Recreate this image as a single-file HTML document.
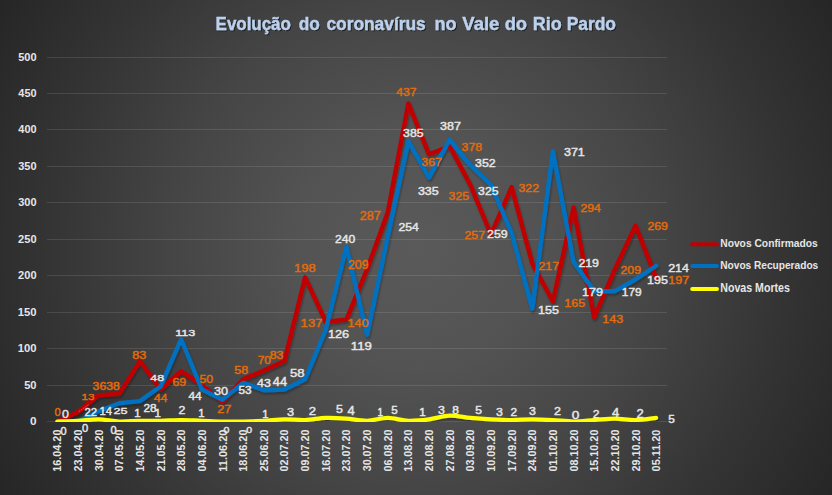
<!DOCTYPE html><html><head><meta charset="utf-8"><style>html,body{margin:0;padding:0;background:#2a2a2a;}svg{display:block;}text{font-family:"Liberation Sans",sans-serif;font-weight:bold;}</style></head><body>
<svg width="832" height="495" viewBox="0 0 832 495">
<defs>
<radialGradient id="bg" gradientUnits="userSpaceOnUse" cx="416" cy="247.5" r="490">
<stop offset="0" stop-color="#5a5a5a"/><stop offset="0.25" stop-color="#535353"/><stop offset="0.5" stop-color="#454545"/><stop offset="0.75" stop-color="#343434"/><stop offset="1" stop-color="#252525"/>
</radialGradient>
<filter id="sh" x="-5%" y="-5%" width="110%" height="110%"><feGaussianBlur in="SourceAlpha" stdDeviation="1.2"/><feOffset dx="1" dy="1.5" result="o"/><feComponentTransfer><feFuncA type="linear" slope="0.3"/></feComponentTransfer><feMerge><feMergeNode/><feMergeNode in="SourceGraphic"/></feMerge></filter>
<filter id="tsh" x="-10%" y="-30%" width="120%" height="160%"><feGaussianBlur in="SourceAlpha" stdDeviation="0.7"/><feOffset dx="0.8" dy="1" result="o"/><feComponentTransfer><feFuncA type="linear" slope="0.6"/></feComponentTransfer><feMerge><feMergeNode/><feMergeNode in="SourceGraphic"/></feMerge></filter>
<clipPath id="pc"><rect x="0" y="0" width="832" height="422"/></clipPath>
</defs>
<rect width="832" height="495" fill="url(#bg)"/>
<line x1="47" y1="57.5" x2="667" y2="57.5" stroke="rgba(255,255,255,0.11)" stroke-width="1"/>
<line x1="47" y1="93.5" x2="667" y2="93.5" stroke="rgba(255,255,255,0.11)" stroke-width="1"/>
<line x1="47" y1="129.5" x2="667" y2="129.5" stroke="rgba(255,255,255,0.11)" stroke-width="1"/>
<line x1="47" y1="166.5" x2="667" y2="166.5" stroke="rgba(255,255,255,0.11)" stroke-width="1"/>
<line x1="47" y1="202.5" x2="667" y2="202.5" stroke="rgba(255,255,255,0.11)" stroke-width="1"/>
<line x1="47" y1="239.5" x2="667" y2="239.5" stroke="rgba(255,255,255,0.11)" stroke-width="1"/>
<line x1="47" y1="275.5" x2="667" y2="275.5" stroke="rgba(255,255,255,0.11)" stroke-width="1"/>
<line x1="47" y1="312.5" x2="667" y2="312.5" stroke="rgba(255,255,255,0.11)" stroke-width="1"/>
<line x1="47" y1="348.5" x2="667" y2="348.5" stroke="rgba(255,255,255,0.11)" stroke-width="1"/>
<line x1="47" y1="385.5" x2="667" y2="385.5" stroke="rgba(255,255,255,0.11)" stroke-width="1"/>
<line x1="47" y1="421.5" x2="667" y2="421.5" stroke="rgba(255,255,255,0.11)" stroke-width="1"/>
<text transform="translate(18.17 60.78) scale(0.1103 0.1183)" font-size="100" fill="#E6E6E6">500</text>
<text transform="translate(18.34 96.78) scale(0.1093 0.1183)" font-size="100" fill="#E6E6E6">450</text>
<text transform="translate(18.34 132.78) scale(0.1093 0.1183)" font-size="100" fill="#E6E6E6">400</text>
<text transform="translate(18.22 169.78) scale(0.1100 0.1183)" font-size="100" fill="#E6E6E6">350</text>
<text transform="translate(18.22 205.78) scale(0.1100 0.1183)" font-size="100" fill="#E6E6E6">300</text>
<text transform="translate(18.11 242.78) scale(0.1107 0.1183)" font-size="100" fill="#E6E6E6">250</text>
<text transform="translate(18.11 278.78) scale(0.1107 0.1183)" font-size="100" fill="#E6E6E6">200</text>
<text transform="translate(17.77 315.78) scale(0.1128 0.1183)" font-size="100" fill="#E6E6E6">150</text>
<text transform="translate(17.77 351.78) scale(0.1128 0.1183)" font-size="100" fill="#E6E6E6">100</text>
<text transform="translate(24.17 388.78) scale(0.1115 0.1183)" font-size="100" fill="#E6E6E6">50</text>
<text transform="translate(30.03 424.78) scale(0.1179 0.1183)" font-size="100" fill="#E6E6E6">0</text>
<text transform="translate(61.30 471.70) rotate(-90) scale(0.1083 0.1070)" font-size="100" fill="#E6E6E6">16.04.20</text>
<text transform="translate(81.95 471.38) rotate(-90) scale(0.1075 0.1070)" font-size="100" fill="#E6E6E6">23.04.20</text>
<text transform="translate(102.60 471.27) rotate(-90) scale(0.1072 0.1070)" font-size="100" fill="#E6E6E6">30.04.20</text>
<text transform="translate(123.25 471.43) rotate(-90) scale(0.1076 0.1070)" font-size="100" fill="#E6E6E6">07.05.20</text>
<text transform="translate(143.90 471.70) rotate(-90) scale(0.1083 0.1070)" font-size="100" fill="#E6E6E6">14.05.20</text>
<text transform="translate(164.55 471.38) rotate(-90) scale(0.1075 0.1070)" font-size="100" fill="#E6E6E6">21.05.20</text>
<text transform="translate(185.20 471.38) rotate(-90) scale(0.1075 0.1070)" font-size="100" fill="#E6E6E6">28.05.20</text>
<text transform="translate(205.85 471.43) rotate(-90) scale(0.1076 0.1070)" font-size="100" fill="#E6E6E6">04.06.20</text>
<text transform="translate(226.50 471.71) rotate(-90) scale(0.1099 0.1070)" font-size="100" fill="#E6E6E6">11.06.20</text>
<text transform="translate(247.15 471.70) rotate(-90) scale(0.1083 0.1070)" font-size="100" fill="#E6E6E6">18.06.20</text>
<text transform="translate(267.80 471.38) rotate(-90) scale(0.1075 0.1070)" font-size="100" fill="#E6E6E6">25.06.20</text>
<text transform="translate(288.45 471.43) rotate(-90) scale(0.1076 0.1070)" font-size="100" fill="#E6E6E6">02.07.20</text>
<text transform="translate(309.10 471.43) rotate(-90) scale(0.1076 0.1070)" font-size="100" fill="#E6E6E6">09.07.20</text>
<text transform="translate(329.75 471.70) rotate(-90) scale(0.1083 0.1070)" font-size="100" fill="#E6E6E6">16.07.20</text>
<text transform="translate(350.40 471.38) rotate(-90) scale(0.1075 0.1070)" font-size="100" fill="#E6E6E6">23.07.20</text>
<text transform="translate(371.05 471.27) rotate(-90) scale(0.1072 0.1070)" font-size="100" fill="#E6E6E6">30.07.20</text>
<text transform="translate(391.70 471.43) rotate(-90) scale(0.1076 0.1070)" font-size="100" fill="#E6E6E6">06.08.20</text>
<text transform="translate(412.35 471.70) rotate(-90) scale(0.1083 0.1070)" font-size="100" fill="#E6E6E6">13.08.20</text>
<text transform="translate(433.00 471.38) rotate(-90) scale(0.1075 0.1070)" font-size="100" fill="#E6E6E6">20.08.20</text>
<text transform="translate(453.65 471.38) rotate(-90) scale(0.1075 0.1070)" font-size="100" fill="#E6E6E6">27.08.20</text>
<text transform="translate(474.30 471.43) rotate(-90) scale(0.1076 0.1070)" font-size="100" fill="#E6E6E6">03.09.20</text>
<text transform="translate(494.95 471.70) rotate(-90) scale(0.1083 0.1070)" font-size="100" fill="#E6E6E6">10.09.20</text>
<text transform="translate(515.60 471.70) rotate(-90) scale(0.1083 0.1070)" font-size="100" fill="#E6E6E6">17.09.20</text>
<text transform="translate(536.25 471.38) rotate(-90) scale(0.1075 0.1070)" font-size="100" fill="#E6E6E6">24.09.20</text>
<text transform="translate(556.90 471.43) rotate(-90) scale(0.1076 0.1070)" font-size="100" fill="#E6E6E6">01.10.20</text>
<text transform="translate(577.55 471.43) rotate(-90) scale(0.1076 0.1070)" font-size="100" fill="#E6E6E6">08.10.20</text>
<text transform="translate(598.20 471.70) rotate(-90) scale(0.1083 0.1070)" font-size="100" fill="#E6E6E6">15.10.20</text>
<text transform="translate(618.85 471.38) rotate(-90) scale(0.1075 0.1070)" font-size="100" fill="#E6E6E6">22.10.20</text>
<text transform="translate(639.50 471.38) rotate(-90) scale(0.1075 0.1070)" font-size="100" fill="#E6E6E6">29.10.20</text>
<text transform="translate(660.15 471.44) rotate(-90) scale(0.1092 0.1070)" font-size="100" fill="#E6E6E6">05.11.20</text>
<g clip-path="url(#pc)"><g filter="url(#sh)">
<polyline points="57.30,421.50 77.95,412.04 98.60,395.29 119.25,393.84 139.90,361.08 160.55,389.47 181.20,371.27 201.85,385.10 222.50,401.84 243.15,379.28 263.80,370.54 284.45,361.08 305.10,277.36 325.75,321.76 346.40,319.58 367.05,269.35 387.70,212.56 408.35,103.36 429.00,154.32 449.65,146.32 470.30,184.90 490.95,234.40 511.60,187.08 532.25,263.52 552.90,301.38 573.55,207.47 594.20,317.40 614.85,269.35 635.50,225.67 656.15,278.08" fill="none" stroke="#C00000" stroke-width="4.4" stroke-linejoin="round" stroke-linecap="round"/>
<polyline points="77.95,421.50 98.60,411.31 119.25,403.30 139.90,401.12 160.55,386.56 181.20,339.24 201.85,389.47 222.50,399.66 243.15,382.92 263.80,390.20 284.45,389.47 305.10,379.28 325.75,329.77 346.40,246.78 367.05,334.87 387.70,236.59 408.35,141.22 429.00,177.62 449.65,139.76 470.30,165.24 490.95,184.90 511.60,232.95 532.25,308.66 552.90,151.41 573.55,262.07 594.20,291.19 614.85,291.19 635.50,279.54 656.15,265.71" fill="none" stroke="#0070C0" stroke-width="4.4" stroke-linejoin="round" stroke-linecap="round"/>
<path d="M57.30,421.50 C60.74,421.38 71.07,421.14 77.95,420.77 C84.83,420.41 91.72,419.19 98.60,419.32 C105.48,419.44 112.37,421.26 119.25,421.50 C126.13,421.74 133.02,420.89 139.90,420.77 C146.78,420.65 153.67,420.89 160.55,420.77 C167.43,420.65 174.32,420.04 181.20,420.04 C188.08,420.04 194.97,420.53 201.85,420.77 C208.73,421.01 215.62,421.38 222.50,421.50 C229.38,421.62 236.27,421.62 243.15,421.50 C250.03,421.38 256.92,421.14 263.80,420.77 C270.68,420.41 277.57,419.44 284.45,419.32 C291.33,419.19 298.22,420.29 305.10,420.04 C311.98,419.80 318.87,418.10 325.75,417.86 C332.63,417.62 339.52,418.10 346.40,418.59 C353.28,419.07 360.17,420.89 367.05,420.77 C373.93,420.65 380.82,417.86 387.70,417.86 C394.58,417.86 401.47,420.53 408.35,420.77 C415.23,421.01 422.12,420.17 429.00,419.32 C435.88,418.47 442.77,415.92 449.65,415.68 C456.53,415.43 463.42,417.25 470.30,417.86 C477.18,418.47 484.07,418.95 490.95,419.32 C497.83,419.68 504.72,420.04 511.60,420.04 C518.48,420.04 525.37,419.32 532.25,419.32 C539.13,419.32 546.02,419.68 552.90,420.04 C559.78,420.41 566.67,421.50 573.55,421.50 C580.43,421.50 587.32,420.53 594.20,420.04 C601.08,419.56 607.97,418.59 614.85,418.59 C621.73,418.59 628.62,420.17 635.50,420.04 C642.38,419.92 652.71,418.22 656.15,417.86" fill="none" stroke="#FFFF00" stroke-width="4.2" stroke-linejoin="round" stroke-linecap="round"/>
</g></g>
<line x1="78.8" y1="411.6" x2="88.6" y2="404.6" stroke="rgba(255,190,190,0.55)" stroke-width="0.8" stroke-dasharray="1.6 1"/>
<text transform="translate(54.55 415.74) scale(0.1116 0.1099)" font-size="100" fill="#E46C0A" stroke="#E46C0A" stroke-width="0.45" vector-effect="non-scaling-stroke" style="font-weight:normal">0</text>
<text transform="translate(81.41 399.75) scale(0.1182 0.0986)" font-size="100" fill="#E46C0A" stroke="#E46C0A" stroke-width="0.45" vector-effect="non-scaling-stroke" style="font-weight:normal">13</text>
<text transform="translate(92.61 389.74) scale(0.1226 0.1056)" font-size="100" fill="#E46C0A" stroke="#E46C0A" stroke-width="0.45" vector-effect="non-scaling-stroke" style="font-weight:normal">3638</text>
<text transform="translate(132.23 358.95) scale(0.1265 0.1042)" font-size="100" fill="#E46C0A" stroke="#E46C0A" stroke-width="0.45" vector-effect="non-scaling-stroke" style="font-weight:normal">83</text>
<text transform="translate(154.10 402.25) scale(0.1204 0.1116)" font-size="100" fill="#E46C0A" stroke="#E46C0A" stroke-width="0.45" vector-effect="non-scaling-stroke" style="font-weight:normal">44</text>
<text transform="translate(172.38 386.04) scale(0.1232 0.1099)" font-size="100" fill="#E46C0A" stroke="#E46C0A" stroke-width="0.45" vector-effect="non-scaling-stroke" style="font-weight:normal">69</text>
<text transform="translate(199.51 382.74) scale(0.1233 0.1085)" font-size="100" fill="#E46C0A" stroke="#E46C0A" stroke-width="0.45" vector-effect="non-scaling-stroke" style="font-weight:normal">50</text>
<text transform="translate(217.16 412.85) scale(0.1287 0.1171)" font-size="100" fill="#E46C0A" stroke="#E46C0A" stroke-width="0.45" vector-effect="non-scaling-stroke" style="font-weight:normal">27</text>
<text transform="translate(234.30 373.84) scale(0.1262 0.1099)" font-size="100" fill="#E46C0A" stroke="#E46C0A" stroke-width="0.45" vector-effect="non-scaling-stroke" style="font-weight:normal">58</text>
<text transform="translate(257.71 363.83) scale(0.1186 0.1169)" font-size="100" fill="#E46C0A" stroke="#E46C0A" stroke-width="0.45" vector-effect="non-scaling-stroke" style="font-weight:normal">70</text>
<text transform="translate(269.64 358.55) scale(0.1235 0.1042)" font-size="100" fill="#E46C0A" stroke="#E46C0A" stroke-width="0.45" vector-effect="non-scaling-stroke" style="font-weight:normal">83</text>
<text transform="translate(294.12 272.23) scale(0.1303 0.1183)" font-size="100" fill="#E46C0A" stroke="#E46C0A" stroke-width="0.45" vector-effect="non-scaling-stroke" style="font-weight:normal">198</text>
<text transform="translate(300.62 327.23) scale(0.1312 0.1183)" font-size="100" fill="#E46C0A" stroke="#E46C0A" stroke-width="0.45" vector-effect="non-scaling-stroke" style="font-weight:normal">137</text>
<text transform="translate(347.55 327.23) scale(0.1265 0.1183)" font-size="100" fill="#E46C0A" stroke="#E46C0A" stroke-width="0.45" vector-effect="non-scaling-stroke" style="font-weight:normal">140</text>
<text transform="translate(347.88 269.03) scale(0.1248 0.1239)" font-size="100" fill="#E46C0A" stroke="#E46C0A" stroke-width="0.45" vector-effect="non-scaling-stroke" style="font-weight:normal">209</text>
<text transform="translate(359.77 219.53) scale(0.1259 0.1197)" font-size="100" fill="#E46C0A" stroke="#E46C0A" stroke-width="0.45" vector-effect="non-scaling-stroke" style="font-weight:normal">287</text>
<text transform="translate(396.29 95.93) scale(0.1220 0.1155)" font-size="100" fill="#E46C0A" stroke="#E46C0A" stroke-width="0.45" vector-effect="non-scaling-stroke" style="font-weight:normal">437</text>
<text transform="translate(421.31 165.64) scale(0.1232 0.1099)" font-size="100" fill="#E46C0A" stroke="#E46C0A" stroke-width="0.45" vector-effect="non-scaling-stroke" style="font-weight:normal">367</text>
<text transform="translate(461.61 151.04) scale(0.1224 0.1099)" font-size="100" fill="#E46C0A" stroke="#E46C0A" stroke-width="0.45" vector-effect="non-scaling-stroke" style="font-weight:normal">378</text>
<text transform="translate(448.61 200.14) scale(0.1224 0.1099)" font-size="100" fill="#E46C0A" stroke="#E46C0A" stroke-width="0.45" vector-effect="non-scaling-stroke" style="font-weight:normal">325</text>
<text transform="translate(464.48 238.64) scale(0.1240 0.1099)" font-size="100" fill="#E46C0A" stroke="#E46C0A" stroke-width="0.45" vector-effect="non-scaling-stroke" style="font-weight:normal">257</text>
<text transform="translate(518.51 192.04) scale(0.1232 0.1099)" font-size="100" fill="#E46C0A" stroke="#E46C0A" stroke-width="0.45" vector-effect="non-scaling-stroke" style="font-weight:normal">322</text>
<text transform="translate(538.38 270.25) scale(0.1240 0.1171)" font-size="100" fill="#E46C0A" stroke="#E46C0A" stroke-width="0.45" vector-effect="non-scaling-stroke" style="font-weight:normal">217</text>
<text transform="translate(564.26 306.53) scale(0.1252 0.1155)" font-size="100" fill="#E46C0A" stroke="#E46C0A" stroke-width="0.45" vector-effect="non-scaling-stroke" style="font-weight:normal">165</text>
<text transform="translate(580.39 212.13) scale(0.1224 0.1183)" font-size="100" fill="#E46C0A" stroke="#E46C0A" stroke-width="0.45" vector-effect="non-scaling-stroke" style="font-weight:normal">294</text>
<text transform="translate(602.26 322.63) scale(0.1256 0.1155)" font-size="100" fill="#E46C0A" stroke="#E46C0A" stroke-width="0.45" vector-effect="non-scaling-stroke" style="font-weight:normal">143</text>
<text transform="translate(620.48 274.04) scale(0.1236 0.1085)" font-size="100" fill="#E46C0A" stroke="#E46C0A" stroke-width="0.45" vector-effect="non-scaling-stroke" style="font-weight:normal">209</text>
<text transform="translate(647.38 230.04) scale(0.1236 0.1099)" font-size="100" fill="#E46C0A" stroke="#E46C0A" stroke-width="0.45" vector-effect="non-scaling-stroke" style="font-weight:normal">269</text>
<text transform="translate(668.26 283.54) scale(0.1260 0.1085)" font-size="100" fill="#E46C0A" stroke="#E46C0A" stroke-width="0.45" vector-effect="non-scaling-stroke" style="font-weight:normal">197</text>
<text transform="translate(61.90 417.64) scale(0.1242 0.1141)" font-size="100" fill="#E6E6E6" stroke="#E6E6E6" stroke-width="0.45" vector-effect="non-scaling-stroke" style="font-weight:normal">0</text>
<text transform="translate(84.44 416.05) scale(0.1129 0.1043)" font-size="100" fill="#E6E6E6" stroke="#E6E6E6" stroke-width="0.45" vector-effect="non-scaling-stroke" style="font-weight:normal">22</text>
<text transform="translate(99.55 414.75) scale(0.1134 0.1058)" font-size="100" fill="#E6E6E6" stroke="#E6E6E6" stroke-width="0.45" vector-effect="non-scaling-stroke" style="font-weight:normal">14</text>
<text transform="translate(113.57 414.35) scale(0.1265 0.0986)" font-size="100" fill="#E6E6E6" stroke="#E6E6E6" stroke-width="0.45" vector-effect="non-scaling-stroke" style="font-weight:normal">25</text>
<text transform="translate(143.51 411.94) scale(0.1186 0.1113)" font-size="100" fill="#E6E6E6" stroke="#E6E6E6" stroke-width="0.45" vector-effect="non-scaling-stroke" style="font-weight:normal">28</text>
<text transform="translate(150.29 381.15) scale(0.1234 0.0986)" font-size="100" fill="#E6E6E6" stroke="#E6E6E6" stroke-width="0.45" vector-effect="non-scaling-stroke" style="font-weight:normal">48</text>
<text transform="translate(175.25 336.45) scale(0.1261 0.0986)" font-size="100" fill="#E6E6E6" stroke="#E6E6E6" stroke-width="0.45" vector-effect="non-scaling-stroke" style="font-weight:normal">113</text>
<text transform="translate(188.40 399.85) scale(0.1194 0.1014)" font-size="100" fill="#E6E6E6" stroke="#E6E6E6" stroke-width="0.45" vector-effect="non-scaling-stroke" style="font-weight:normal">44</text>
<text transform="translate(214.10 394.94) scale(0.1262 0.1056)" font-size="100" fill="#E6E6E6" stroke="#E6E6E6" stroke-width="0.45" vector-effect="non-scaling-stroke" style="font-weight:normal">30</text>
<text transform="translate(238.43 394.14) scale(0.1180 0.1099)" font-size="100" fill="#E6E6E6" stroke="#E6E6E6" stroke-width="0.45" vector-effect="non-scaling-stroke" style="font-weight:normal">53</text>
<text transform="translate(257.09 386.84) scale(0.1250 0.1099)" font-size="100" fill="#E6E6E6" stroke="#E6E6E6" stroke-width="0.45" vector-effect="non-scaling-stroke" style="font-weight:normal">43</text>
<text transform="translate(272.78 386.45) scale(0.1280 0.1203)" font-size="100" fill="#E6E6E6" stroke="#E6E6E6" stroke-width="0.45" vector-effect="non-scaling-stroke" style="font-weight:normal">44</text>
<text transform="translate(289.88 376.73) scale(0.1311 0.1169)" font-size="100" fill="#E6E6E6" stroke="#E6E6E6" stroke-width="0.45" vector-effect="non-scaling-stroke" style="font-weight:normal">58</text>
<text transform="translate(327.94 338.23) scale(0.1275 0.1155)" font-size="100" fill="#E6E6E6" stroke="#E6E6E6" stroke-width="0.45" vector-effect="non-scaling-stroke" style="font-weight:normal">126</text>
<text transform="translate(334.99 243.13) scale(0.1219 0.1183)" font-size="100" fill="#E6E6E6" stroke="#E6E6E6" stroke-width="0.45" vector-effect="non-scaling-stroke" style="font-weight:normal">240</text>
<text transform="translate(350.81 349.94) scale(0.1315 0.1113)" font-size="100" fill="#E6E6E6" stroke="#E6E6E6" stroke-width="0.45" vector-effect="non-scaling-stroke" style="font-weight:normal">119</text>
<text transform="translate(398.39 230.84) scale(0.1224 0.1099)" font-size="100" fill="#E6E6E6" stroke="#E6E6E6" stroke-width="0.45" vector-effect="non-scaling-stroke" style="font-weight:normal">254</text>
<text transform="translate(403.11 136.74) scale(0.1224 0.1099)" font-size="100" fill="#E6E6E6" stroke="#E6E6E6" stroke-width="0.45" vector-effect="non-scaling-stroke" style="font-weight:normal">385</text>
<text transform="translate(417.90 194.74) scale(0.1249 0.1099)" font-size="100" fill="#E6E6E6" stroke="#E6E6E6" stroke-width="0.45" vector-effect="non-scaling-stroke" style="font-weight:normal">335</text>
<text transform="translate(440.10 129.84) scale(0.1257 0.1099)" font-size="100" fill="#E6E6E6" stroke="#E6E6E6" stroke-width="0.45" vector-effect="non-scaling-stroke" style="font-weight:normal">387</text>
<text transform="translate(475.11 166.84) scale(0.1232 0.1099)" font-size="100" fill="#E6E6E6" stroke="#E6E6E6" stroke-width="0.45" vector-effect="non-scaling-stroke" style="font-weight:normal">352</text>
<text transform="translate(478.11 195.14) scale(0.1224 0.1099)" font-size="100" fill="#E6E6E6" stroke="#E6E6E6" stroke-width="0.45" vector-effect="non-scaling-stroke" style="font-weight:normal">325</text>
<text transform="translate(487.08 238.04) scale(0.1236 0.1099)" font-size="100" fill="#E6E6E6" stroke="#E6E6E6" stroke-width="0.45" vector-effect="non-scaling-stroke" style="font-weight:normal">259</text>
<text transform="translate(538.06 313.93) scale(0.1252 0.1157)" font-size="100" fill="#E6E6E6" stroke="#E6E6E6" stroke-width="0.45" vector-effect="non-scaling-stroke" style="font-weight:normal">155</text>
<text transform="translate(563.90 156.03) scale(0.1257 0.1155)" font-size="100" fill="#E6E6E6" stroke="#E6E6E6" stroke-width="0.45" vector-effect="non-scaling-stroke" style="font-weight:normal">371</text>
<text transform="translate(578.38 267.13) scale(0.1236 0.1155)" font-size="100" fill="#E6E6E6" stroke="#E6E6E6" stroke-width="0.45" vector-effect="non-scaling-stroke" style="font-weight:normal">219</text>
<text transform="translate(582.06 296.03) scale(0.1256 0.1183)" font-size="100" fill="#E6E6E6" stroke="#E6E6E6" stroke-width="0.45" vector-effect="non-scaling-stroke" style="font-weight:normal">179</text>
<text transform="translate(621.81 296.33) scale(0.1191 0.1183)" font-size="100" fill="#E6E6E6" stroke="#E6E6E6" stroke-width="0.45" vector-effect="non-scaling-stroke" style="font-weight:normal">179</text>
<text transform="translate(647.06 284.14) scale(0.1252 0.1085)" font-size="100" fill="#E6E6E6" stroke="#E6E6E6" stroke-width="0.45" vector-effect="non-scaling-stroke" style="font-weight:normal">195</text>
<text transform="translate(668.18 271.55) scale(0.1249 0.1114)" font-size="100" fill="#E6E6E6" stroke="#E6E6E6" stroke-width="0.45" vector-effect="non-scaling-stroke" style="font-weight:normal">214</text>
<text transform="translate(60.46 434.94) scale(0.1095 0.1141)" font-size="100" fill="#E6E6E6" stroke="#E6E6E6" stroke-width="0.45" vector-effect="non-scaling-stroke" style="font-weight:normal">0</text>
<text transform="translate(82.05 431.84) scale(0.1116 0.1127)" font-size="100" fill="#E6E6E6" stroke="#E6E6E6" stroke-width="0.45" vector-effect="non-scaling-stroke" style="font-weight:normal">0</text>
<text transform="translate(110.46 434.14) scale(0.1095 0.1085)" font-size="100" fill="#E6E6E6" stroke="#E6E6E6" stroke-width="0.45" vector-effect="non-scaling-stroke" style="font-weight:normal">0</text>
<text transform="translate(134.35 416.85) scale(0.1140 0.1014)" font-size="100" fill="#E6E6E6" stroke="#E6E6E6" stroke-width="0.45" vector-effect="non-scaling-stroke" style="font-weight:normal">1</text>
<text transform="translate(154.55 416.85) scale(0.1140 0.1014)" font-size="100" fill="#E6E6E6" stroke="#E6E6E6" stroke-width="0.45" vector-effect="non-scaling-stroke" style="font-weight:normal">1</text>
<text transform="translate(178.38 414.45) scale(0.1231 0.1000)" font-size="100" fill="#E6E6E6" stroke="#E6E6E6" stroke-width="0.45" vector-effect="non-scaling-stroke" style="font-weight:normal">2</text>
<text transform="translate(198.35 416.85) scale(0.1140 0.1116)" font-size="100" fill="#E6E6E6" stroke="#E6E6E6" stroke-width="0.45" vector-effect="non-scaling-stroke" style="font-weight:normal">1</text>
<text transform="translate(223.48 432.56) scale(0.1053 0.0915)" font-size="100" fill="#E6E6E6" stroke="#E6E6E6" stroke-width="0.45" vector-effect="non-scaling-stroke" style="font-weight:normal">0</text>
<text transform="translate(246.28 432.56) scale(0.1053 0.0915)" font-size="100" fill="#E6E6E6" stroke="#E6E6E6" stroke-width="0.45" vector-effect="non-scaling-stroke" style="font-weight:normal">0</text>
<text transform="translate(262.36 418.45) scale(0.1116 0.1130)" font-size="100" fill="#E6E6E6" stroke="#E6E6E6" stroke-width="0.45" vector-effect="non-scaling-stroke" style="font-weight:normal">1</text>
<text transform="translate(286.89 415.74) scale(0.1277 0.1127)" font-size="100" fill="#E6E6E6" stroke="#E6E6E6" stroke-width="0.45" vector-effect="non-scaling-stroke" style="font-weight:normal">3</text>
<text transform="translate(308.84 414.65) scale(0.1319 0.1157)" font-size="100" fill="#E6E6E6" stroke="#E6E6E6" stroke-width="0.45" vector-effect="non-scaling-stroke" style="font-weight:normal">2</text>
<text transform="translate(335.90 412.74) scale(0.1242 0.1114)" font-size="100" fill="#E6E6E6" stroke="#E6E6E6" stroke-width="0.45" vector-effect="non-scaling-stroke" style="font-weight:normal">5</text>
<text transform="translate(347.57 415.25) scale(0.1300 0.1203)" font-size="100" fill="#E6E6E6" stroke="#E6E6E6" stroke-width="0.45" vector-effect="non-scaling-stroke" style="font-weight:normal">4</text>
<text transform="translate(377.55 416.45) scale(0.1000 0.1101)" font-size="100" fill="#E6E6E6" stroke="#E6E6E6" stroke-width="0.45" vector-effect="non-scaling-stroke" style="font-weight:normal">1</text>
<text transform="translate(391.34 413.54) scale(0.1158 0.1100)" font-size="100" fill="#E6E6E6" stroke="#E6E6E6" stroke-width="0.45" vector-effect="non-scaling-stroke" style="font-weight:normal">5</text>
<text transform="translate(419.33 415.75) scale(0.1163 0.1101)" font-size="100" fill="#E6E6E6" stroke="#E6E6E6" stroke-width="0.45" vector-effect="non-scaling-stroke" style="font-weight:normal">1</text>
<text transform="translate(438.01 413.55) scale(0.1234 0.1014)" font-size="100" fill="#E6E6E6" stroke="#E6E6E6" stroke-width="0.45" vector-effect="non-scaling-stroke" style="font-weight:normal">3</text>
<text transform="translate(452.16 413.55) scale(0.1191 0.1014)" font-size="100" fill="#E6E6E6" stroke="#E6E6E6" stroke-width="0.45" vector-effect="non-scaling-stroke" style="font-weight:normal">8</text>
<text transform="translate(475.22 413.55) scale(0.1200 0.1000)" font-size="100" fill="#E6E6E6" stroke="#E6E6E6" stroke-width="0.45" vector-effect="non-scaling-stroke" style="font-weight:normal">5</text>
<text transform="translate(496.11 416.34) scale(0.1234 0.1070)" font-size="100" fill="#E6E6E6" stroke="#E6E6E6" stroke-width="0.45" vector-effect="non-scaling-stroke" style="font-weight:normal">3</text>
<text transform="translate(510.41 415.75) scale(0.1187 0.1043)" font-size="100" fill="#E6E6E6" stroke="#E6E6E6" stroke-width="0.45" vector-effect="non-scaling-stroke" style="font-weight:normal">2</text>
<text transform="translate(528.91 415.24) scale(0.1234 0.1056)" font-size="100" fill="#E6E6E6" stroke="#E6E6E6" stroke-width="0.45" vector-effect="non-scaling-stroke" style="font-weight:normal">3</text>
<text transform="translate(554.07 415.35) scale(0.1253 0.1071)" font-size="100" fill="#E6E6E6" stroke="#E6E6E6" stroke-width="0.45" vector-effect="non-scaling-stroke" style="font-weight:normal">2</text>
<text transform="translate(571.75 418.74) scale(0.1368 0.1141)" font-size="100" fill="#E6E6E6" stroke="#E6E6E6" stroke-width="0.45" vector-effect="non-scaling-stroke" style="font-weight:normal">0</text>
<text transform="translate(592.80 417.55) scale(0.1209 0.1114)" font-size="100" fill="#E6E6E6" stroke="#E6E6E6" stroke-width="0.45" vector-effect="non-scaling-stroke" style="font-weight:normal">2</text>
<text transform="translate(611.88 417.15) scale(0.1300 0.1217)" font-size="100" fill="#E6E6E6" stroke="#E6E6E6" stroke-width="0.45" vector-effect="non-scaling-stroke" style="font-weight:normal">4</text>
<text transform="translate(636.55 418.05) scale(0.1297 0.1186)" font-size="100" fill="#E6E6E6" stroke="#E6E6E6" stroke-width="0.45" vector-effect="non-scaling-stroke" style="font-weight:normal">2</text>
<text transform="translate(668.33 422.75) scale(0.1179 0.1043)" font-size="100" fill="#E6E6E6" stroke="#E6E6E6" stroke-width="0.45" vector-effect="non-scaling-stroke" style="font-weight:normal">5</text>
<line x1="692.2" y1="244.3" x2="717" y2="244.3" stroke="#C00000" stroke-width="4" stroke-linecap="round"/>
<text transform="translate(720.23 247.00) scale(0.1028 0.1159)" font-size="100" fill="#E6E6E6">Novos Confirmados</text>
<line x1="692.2" y1="266.0" x2="717" y2="266.0" stroke="#0070C0" stroke-width="4" stroke-linecap="round"/>
<text transform="translate(720.24 269.00) scale(0.1015 0.1159)" font-size="100" fill="#E6E6E6">Novos Recuperados</text>
<line x1="692.2" y1="289.0" x2="717" y2="289.0" stroke="#FFFF00" stroke-width="4" stroke-linecap="round"/>
<text transform="translate(720.21 292.00) scale(0.1064 0.1188)" font-size="100" fill="#E6E6E6">Novas Mortes</text>
<g filter="url(#tsh)">
<text transform="translate(215.60 29.70) scale(0.1694 0.1914)" font-size="100" fill="#BCD1EE" stroke="#BCD1EE" stroke-width="0.35" vector-effect="non-scaling-stroke">Evolução</text>
<text transform="translate(298.81 29.70) scale(0.1719 0.1914)" font-size="100" fill="#BCD1EE" stroke="#BCD1EE" stroke-width="0.35" vector-effect="non-scaling-stroke">do</text>
<text transform="translate(326.41 29.70) scale(0.1736 0.1914)" font-size="100" fill="#BCD1EE" stroke="#BCD1EE" stroke-width="0.35" vector-effect="non-scaling-stroke">coronavírus</text>
<text transform="translate(434.43 29.70) scale(0.1803 0.1914)" font-size="100" fill="#BCD1EE" stroke="#BCD1EE" stroke-width="0.35" vector-effect="non-scaling-stroke">no</text>
<text transform="translate(462.31 29.70) scale(0.1852 0.1914)" font-size="100" fill="#BCD1EE" stroke="#BCD1EE" stroke-width="0.35" vector-effect="non-scaling-stroke">Vale</text>
<text transform="translate(504.67 29.70) scale(0.1833 0.1914)" font-size="100" fill="#BCD1EE" stroke="#BCD1EE" stroke-width="0.35" vector-effect="non-scaling-stroke">do</text>
<text transform="translate(532.83 29.70) scale(0.1794 0.1914)" font-size="100" fill="#BCD1EE" stroke="#BCD1EE" stroke-width="0.35" vector-effect="non-scaling-stroke">Rio</text>
<text transform="translate(566.67 29.70) scale(0.1736 0.1914)" font-size="100" fill="#BCD1EE" stroke="#BCD1EE" stroke-width="0.35" vector-effect="non-scaling-stroke">Pardo</text>
</g>
</svg></body></html>
